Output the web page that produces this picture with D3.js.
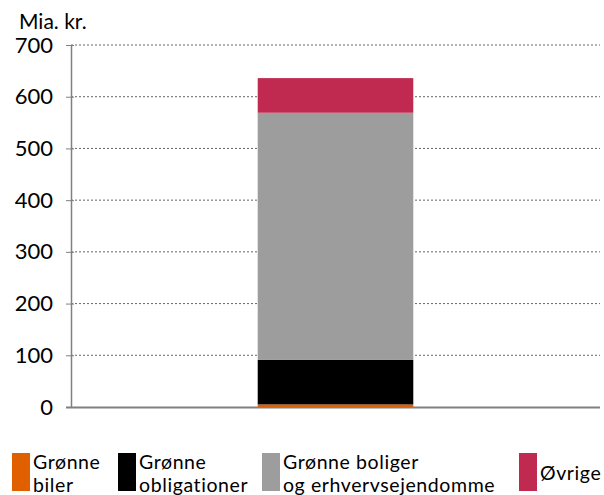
<!DOCTYPE html>
<html>
<head>
<meta charset="utf-8">
<script src="https://cdn.jsdelivr.net/npm/d3@7"></script>
<style>
  body { margin: 0; background: #fff; }
  text { font-family: Lato, "Open Sans", sans-serif; fill: #000; }
</style>
</head>
<body>
<div id="chart"></div>
<script>
const categories = ['Total']
const seriesNames = ['Grønne biler', 'Grønne obligationer', 'Grønne boliger og erhvervsejendomme', 'Øvrige']
const legendLines = [['Grønne', 'biler'], ['Grønne', 'obligationer'], ['Grønne boliger', 'og erhvervsejendomme'], ['Øvrige']]
const seriesValues = [[5], [86], [478], [67]]
const colors = ['#e06000', '#000000', '#9d9d9d', '#c02a51']
const yTicks = [0, 100, 200, 300, 400, 500, 600, 700]

const width = 604
const height = 495
const margin = { top: 45, right: 4, bottom: 88, left: 71 }

const svg = d3.select('#chart').append('svg').attr('width', width).attr('height', height)

const y = d3.scaleLinear().domain([0, 700]).range([height - margin.bottom, margin.top])
const x = d3.scaleBand().domain(categories).range([margin.left, width - margin.right]).paddingInner(0.3).paddingOuter(0.84)

// grid
svg.append('g')
  .selectAll('line')
  .data(yTicks.slice(1))
  .enter()
  .append('line')
  .attr('x1', margin.left)
  .attr('x2', width - margin.right)
  .attr('y1', (d) => y(d))
  .attr('y2', (d) => y(d))
  .attr('stroke', '#666')
  .attr('stroke-width', 1)
  .attr('stroke-dasharray', '2,2')

// x baseline
svg.append('line')
  .attr('x1', margin.left - 5)
  .attr('x2', width - margin.right)
  .attr('y1', y(0) + 0.5)
  .attr('y2', y(0) + 0.5)
  .attr('stroke', '#808080')
  .attr('stroke-width', 2)

// stacked bars
const rows = categories.map((c, i) => {
  const r = { cat: c }
  seriesNames.forEach((s, j) => { r[s] = seriesValues[j][i] })
  return r
})
const stack = d3.stack().keys(seriesNames)(rows)
svg.append('g')
  .selectAll('g')
  .data(stack)
  .enter()
  .append('g')
  .attr('fill', (d, i) => colors[i])
  .selectAll('rect')
  .data((d) => d)
  .enter()
  .append('rect')
  .attr('x', (d) => x(d.data.cat))
  .attr('width', x.bandwidth())
  .attr('y', (d) => y(d[1]))
  .attr('height', (d) => y(d[0]) - y(d[1]))

// y axis
const yAxis = svg.append('g')
  .attr('transform', `translate(${margin.left},0)`)
  .call(d3.axisLeft(y).tickValues(yTicks).tickSize(5).tickSizeOuter(0).tickPadding(13))
yAxis.select('.domain').attr('stroke', '#808080').attr('stroke-width', 1.5)
yAxis.selectAll('.tick line').attr('stroke', '#808080').attr('x2', 3).attr('x1', -5)
yAxis.selectAll('.tick text').style('font-size', '22px').style('font-family', 'Lato, sans-serif')

svg.append('text')
  .attr('x', 19)
  .attr('y', 29)
  .style('font-size', '21px')
  .text('Mia. kr.')

// legend
const legendX = [12, 118, 262, 519]
const lg = svg.append('g')
legendLines.forEach((lines, i) => {
  lg.append('rect')
    .attr('x', legendX[i])
    .attr('y', 453)
    .attr('width', 18)
    .attr('height', 38)
    .attr('fill', colors[i])
  const baseY = lines.length === 1 ? [480] : [468.5, 492]
  lines.forEach((l, k) => {
    lg.append('text')
      .attr('x', legendX[i] + 21)
      .attr('y', baseY[k])
      .style('font-size', '19.5px')
      .style('letter-spacing', '0.6px')
      .text(l)
  })
})
</script>
</body>
</html>
